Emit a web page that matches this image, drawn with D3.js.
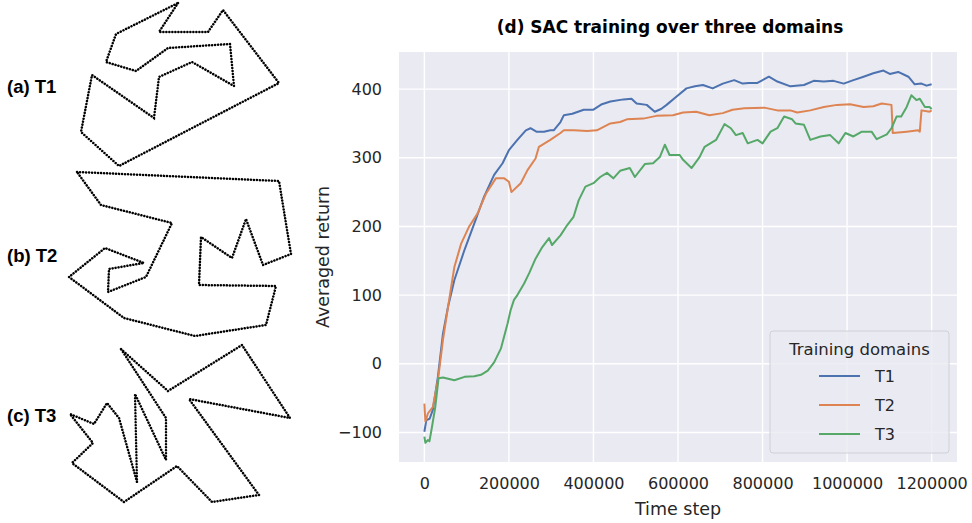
<!DOCTYPE html>
<html>
<head>
<meta charset="utf-8">
<script src="https://cdn.jsdelivr.net/npm/d3@7"></script>
<style>
  body { margin: 0; background: #fff; }
  text { font-family: "DejaVu Sans", sans-serif; fill: #262626; }
</style>
</head>
<body>
<svg id="chart" width="972" height="523" viewBox="0 0 972 523"></svg>
<script>
// training curves: [time step, averaged return]
const t1Curve = [[0,-99],[4700,-82],[12500,-80],[20000,-67],[32000,-19],[44000,44],[56000,83],[71000,122],[95000,166],[118000,204],[141000,243],[165000,275],[185000,292],[200000,311],[220000,326],[240000,340],[251000,343],[265000,338],[283000,338],[298000,340],[306000,340],[322000,352],[330000,362],[350000,364],[377000,370],[400000,370],[420000,378],[440000,382],[471000,385],[490000,386],[502000,379],[526000,377],[545000,367],[560000,371],[573000,377],[596000,389],[620000,401],[640000,404],[659000,406],[682000,401],[706000,408],[733000,413],[753000,408],[768000,409],[788000,409],[815000,418],[835000,411],[866000,404],[898000,406],[921000,412],[945000,411],[968000,412],[992000,408],[1015000,413],[1039000,418],[1062000,423],[1086000,427],[1101000,422],[1121000,425],[1145000,418],[1160000,407],[1176000,408],[1188000,405],[1200000,407]];

const t2Curve = [[0,-58],[2400,-84],[8600,-72],[20000,-63],[32000,-24],[44000,35],[56000,83],[71000,141],[87000,175],[106000,200],[126000,219],[146000,248],[169000,270],[189000,270],[200000,265],[206000,250],[228000,263],[244000,282],[263000,299],[271000,316],[298000,326],[322000,336],[330000,340],[354000,340],[385000,339],[408000,340],[440000,350],[463000,352],[479000,356],[518000,357],[549000,361],[588000,362],[612000,366],[643000,367],[674000,362],[706000,365],[729000,370],[757000,372],[804000,373],[835000,369],[866000,369],[882000,366],[913000,369],[945000,374],[976000,377],[1007000,378],[1039000,374],[1062000,375],[1082000,379],[1105000,377],[1108000,336],[1141000,338],[1168000,340],[1172000,338],[1176000,369],[1195000,367],[1200000,369]];

const t3Curve = [[0,-106],[2400,-115],[8600,-111],[12000,-113],[18000,-92],[25800,-63],[33600,-21],[44000,-20],[71000,-24],[95000,-19],[118000,-18],[134000,-16],[150000,-10],[165000,2],[181000,22],[197000,59],[204000,78],[212000,93],[220000,100],[236000,117],[248000,132],[263000,153],[279000,170],[295000,183],[302000,173],[322000,187],[338000,202],[353000,214],[365000,238],[381000,258],[400000,263],[416000,272],[432000,278],[447000,270],[463000,281],[486000,285],[498000,272],[522000,291],[541000,292],[557000,301],[569000,319],[580000,304],[604000,304],[612000,297],[632000,285],[651000,301],[663000,316],[690000,326],[710000,349],[725000,343],[737000,333],[753000,336],[765000,321],[788000,326],[800000,321],[819000,338],[835000,343],[851000,360],[870000,356],[878000,350],[898000,348],[913000,326],[937000,331],[960000,333],[980000,321],[996000,336],[1015000,331],[1035000,338],[1058000,338],[1070000,327],[1094000,334],[1105000,343],[1117000,360],[1128000,360],[1141000,374],[1152000,391],[1164000,384],[1172000,386],[1184000,374],[1195000,374],[1200000,371]];

const domainNames = ["T1", "T2", "T3"];
const domainColors = ["#4c72b0", "#dd8452", "#55a868"];
const xTicks = [0, 200000, 400000, 600000, 800000, 1000000, 1200000];
const yTicks = [-100, 0, 100, 200, 300, 400];

// track outlines for the three domains (local panel units)
const t1Track = [[178,3],[159,32],[208,32],[223,10],[279,83],[119,166],[81,132],[92,75],[154,118],[159,77],[192,62],[234,86],[230,44],[168,48],[136,71],[106,62],[116,34]];
const t2Track = [[77,7],[279,16],[291,89],[263,100],[246,54],[232,93],[201,72],[199,120],[276,121],[266,160],[195,171],[124,153],[69,112],[105,83],[144,98],[109,104],[108,127],[146,112],[172,58],[101,40]];
const t3Track = [[121,9],[168,51],[242,5],[290,78],[189,59],[259,155],[212,162],[177,126],[124,162],[72,123],[93,103],[70,74],[94,84],[107,63],[119,78],[137,142],[135,54],[166,120],[166,78]];
const trackLabels = ["(a) T1", "(b) T2", "(c) T3"];

const svg = d3.select("#chart");

// ---- left: the three track shapes
const panels = [
  { label: trackLabels[0], pts: t1Track, top: 0, labelY: 93 },
  { label: trackLabels[1], pts: t2Track, top: 165, labelY: 97 },
  { label: trackLabels[2], pts: t3Track, top: 340, labelY: 82 }
];
const px = d3.scaleLinear().domain([0, 1]).range([0, 1]);
const py = d3.scaleLinear().domain([0, 1]).range([0, 1]);
const trackLine = d3.line().x(d => px(d[0])).y(d => py(d[1])).curve(d3.curveLinearClosed);

panels.forEach(p => {
  const g = svg.append("g").attr("transform", `translate(0,${p.top})`);
  g.append("path")
    .attr("d", trackLine(p.pts))
    .attr("fill", "none")
    .attr("stroke", "#000")
    .attr("stroke-width", 2.5)
    .attr("stroke-linecap", "round")
    .attr("stroke-dasharray", "0.1 2.9");
  g.append("text")
    .attr("x", 7)
    .attr("y", p.labelY)
    .style("font-family", "'Liberation Sans', Arial, sans-serif")
    .attr("font-weight", "bold")
    .attr("font-size", "18.5px")
    .style("fill", "#000")
    .text(p.label);
});

// ---- right: training curves
const plot = { left: 399, top: 52, right: 957, bottom: 462 };
const x = d3.scaleLinear().domain([-60000, 1260000]).range([plot.left, plot.right]);
const y = d3.scaleLinear().domain([-143, 454]).range([plot.bottom, plot.top]);

svg.append("rect")
  .attr("x", plot.left).attr("y", plot.top)
  .attr("width", plot.right - plot.left)
  .attr("height", plot.bottom - plot.top)
  .attr("fill", "#eaeaf2");

const grid = svg.append("g").attr("stroke", "#fff").attr("stroke-width", 1.4);
grid.selectAll(".vg").data(xTicks).enter().append("line")
  .attr("x1", d => x(d)).attr("x2", d => x(d))
  .attr("y1", plot.top).attr("y2", plot.bottom);
grid.selectAll(".hg").data(yTicks).enter().append("line")
  .attr("y1", d => y(d)).attr("y2", d => y(d))
  .attr("x1", plot.left).attr("x2", plot.right);

const xAxis = svg.append("g")
  .attr("transform", `translate(0,${plot.bottom})`)
  .call(d3.axisBottom(x).tickValues(xTicks).tickSize(0).tickPadding(16).tickFormat(d3.format("d")));
const yAxis = svg.append("g")
  .attr("transform", `translate(${plot.left},0)`)
  .call(d3.axisLeft(y).tickValues(yTicks).tickSize(0).tickPadding(17).tickFormat(d => d < 0 ? "\u2212" + Math.abs(d) : d));
[xAxis, yAxis].forEach(a => {
  a.select(".domain").remove();
  a.selectAll("text")
    .attr("font-family", "DejaVu Sans, sans-serif")
    .attr("font-size", "16px")
    .style("fill", "#262626");
});

const curveLine = d3.line().x(d => x(d[0])).y(d => y(d[1]));
[t1Curve, t2Curve, t3Curve].forEach((c, i) => {
  svg.append("path")
    .attr("d", curveLine(c))
    .attr("fill", "none")
    .attr("stroke", domainColors[i])
    .attr("stroke-width", 2)
    .attr("stroke-linejoin", "round");
});

svg.append("text")
  .attr("x", (plot.left + plot.right) / 2 - 8)
  .attr("y", 33)
  .attr("text-anchor", "middle")
  .attr("font-weight", "bold")
  .attr("font-size", "17px")
  .style("fill", "#000")
  .text("(d) SAC training over three domains");

svg.append("text")
  .attr("x", (plot.left + plot.right) / 2)
  .attr("y", 515)
  .attr("text-anchor", "middle")
  .attr("font-size", "17.5px")
  .text("Time step");

svg.append("text")
  .attr("transform", `translate(329,${(plot.top + plot.bottom) / 2}) rotate(-90)`)
  .attr("text-anchor", "middle")
  .attr("font-size", "17.5px")
  .text("Averaged return");

// legend
const legend = svg.append("g").attr("transform", "translate(770,331)");
legend.append("rect")
  .attr("width", 179).attr("height", 122).attr("rx", 3)
  .attr("fill", "#eaeaf2").attr("fill-opacity", 0.8)
  .attr("stroke", "#d0d0d8").attr("stroke-width", 1);
legend.append("text")
  .attr("x", 89.5).attr("y", 24)
  .attr("text-anchor", "middle")
  .attr("font-size", "16.5px")
  .text("Training domains");
const items = legend.selectAll(".item").data(domainNames).enter().append("g")
  .attr("transform", (d, i) => `translate(0,${45 + i * 29})`);
items.append("line")
  .attr("x1", 49).attr("x2", 90)
  .attr("stroke", (d, i) => domainColors[i])
  .attr("stroke-width", 2);
items.append("text")
  .attr("x", 105).attr("y", 6)
  .attr("font-size", "16px")
  .text(d => d);
</script>
</body>
</html>
